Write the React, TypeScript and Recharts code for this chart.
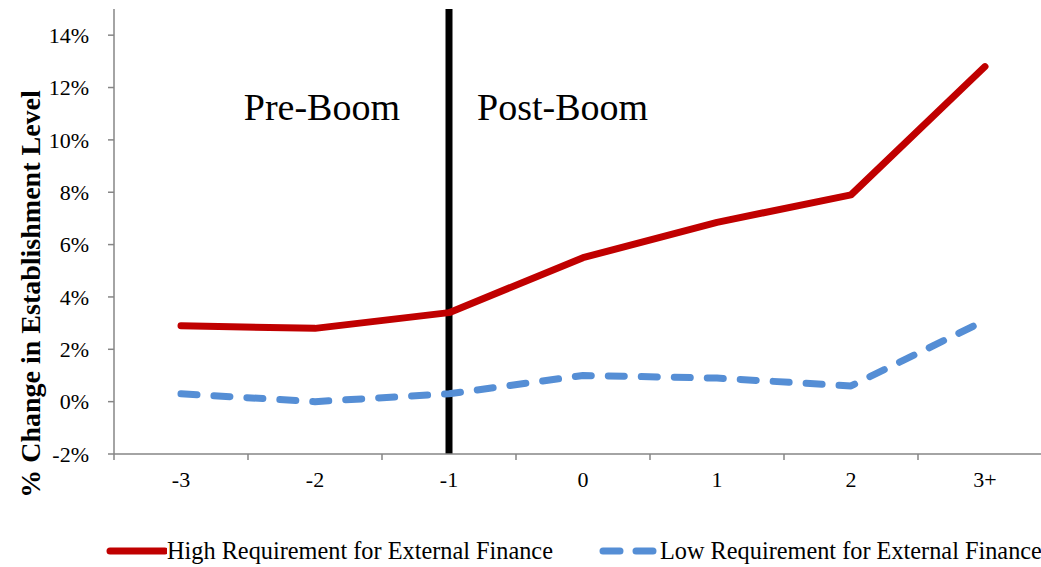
import React from 'react';
import { LineChart, Line, XAxis, YAxis, ReferenceLine } from 'recharts';

const periods = ['-3', '-2', '-1', '0', '1', '2', '3+'];
const highReq = [2.9, 2.8, 3.4, 5.5, 6.85, 7.9, 12.8];
const lowReq = [0.3, 0.0, 0.3, 1.0, 0.9, 0.6, 3.1];
const yTicks = [-2, 0, 2, 4, 6, 8, 10, 12, 14];

const data = periods.map((p, i) => ({ period: p, high: highReq[i], low: lowReq[i] }));

const RED = '#C00000';
const BLUE = '#558ED5';
const AXIS = '#868686';
const FONT = '"Liberation Serif", "Times New Roman", serif';

const CHART_W = 1060;
const MARGIN = { top: 9, right: 8, bottom: 83, left: 0 };
const Y_AXIS_W = 114;
const HALF_BAND = (CHART_W - MARGIN.left - MARGIN.right - Y_AXIS_W) / periods.length / 2;

// Excel-style category axis: tick marks sit between categories, labels in the middle
const CategoryTick = ({ x, y, payload, index }: any) => {
  const axisY = y - 17;
  return (
    <g>
      <line x1={x - HALF_BAND} y1={axisY} x2={x - HALF_BAND} y2={axisY + 6} stroke={AXIS} strokeWidth={1.5} />
      {index === periods.length - 1 && (
        <line x1={x + HALF_BAND} y1={axisY} x2={x + HALF_BAND} y2={axisY + 6} stroke={AXIS} strokeWidth={1.5} />
      )}
      <text x={x} y={y} dy="0.71em" textAnchor="middle" fill="#000" fontSize={22} fontFamily={FONT}>
        {payload.value}
      </text>
    </g>
  );
};

const BoomLabels = ({ viewBox }: any) => {
  const x = viewBox.x;
  return (
    <g fontFamily={FONT} fontSize={38} fill="#000">
      <text x={x - 49} y={120} textAnchor="end">Pre-Boom</text>
      <text x={x + 28} y={120} textAnchor="start">Post-Boom</text>
    </g>
  );
};

const YTitle = () => (
  <text
    transform="translate(40,294) rotate(-90)"
    textAnchor="middle"
    fontFamily={FONT}
    fontSize={28}
    fontWeight="bold"
    fill="#000"
  >
    % Change in Establishment Level
  </text>
);

export default function App() {
  return (
    <div style={{ position: 'fixed', left: 0, top: 0, width: 1041, height: 567, overflow: 'hidden', background: '#fff' }}>
      <LineChart width={CHART_W} height={567} data={data} margin={MARGIN}>
        <XAxis
          dataKey="period"
          stroke={AXIS}
          strokeWidth={1.5}
          tickLine={false}
          tickSize={6}
          tickMargin={11}
          tick={<CategoryTick />}
          padding={{ left: HALF_BAND, right: HALF_BAND }}
          interval={0}
        />
        <YAxis
          width={Y_AXIS_W}
          domain={[-2, 15]}
          ticks={yTicks}
          tickFormatter={(v) => `${v}%`}
          stroke={AXIS}
          strokeWidth={1.5}
          tickSize={6}
          tickMargin={19}
          tick={{ fill: '#000', fontSize: 22, fontFamily: FONT }}
          allowDataOverflow
          label={<YTitle />}
        />
        <ReferenceLine x="-1" stroke="#000" strokeWidth={7} label={<BoomLabels />} />
        <Line
          type="linear"
          dataKey="high"
          stroke={RED}
          strokeWidth={7}
          strokeLinecap="round"
          strokeLinejoin="round"
          dot={false}
          activeDot={false}
          isAnimationActive={false}
        />
        <Line
          type="linear"
          dataKey="low"
          stroke={BLUE}
          strokeWidth={7}
          strokeDasharray="16 17"
          strokeLinecap="round"
          strokeLinejoin="round"
          dot={false}
          activeDot={false}
          isAnimationActive={false}
        />
      </LineChart>
      <div style={{ position: 'absolute', left: 0, top: 536, width: 1041, height: 30, fontFamily: FONT, fontSize: 24.3, color: '#000' }}>
        <div style={{ position: 'absolute', left: 104, top: 0, display: 'flex', alignItems: 'center', whiteSpace: 'nowrap' }}>
          <svg width={63} height={30}>
            <line x1={6} y1={15} x2={61} y2={15} stroke={RED} strokeWidth={7} strokeLinecap="round" />
          </svg>
          <span>High Requirement for External Finance</span>
        </div>
        <div style={{ position: 'absolute', left: 597, top: 0, display: 'flex', alignItems: 'center', whiteSpace: 'nowrap' }}>
          <svg width={63} height={30}>
            <line x1={6} y1={15} x2={60} y2={15} stroke={BLUE} strokeWidth={7} strokeDasharray="17 16" strokeLinecap="round" />
          </svg>
          <span>Low Requirement for External Finance</span>
        </div>
      </div>
    </div>
  );
}
